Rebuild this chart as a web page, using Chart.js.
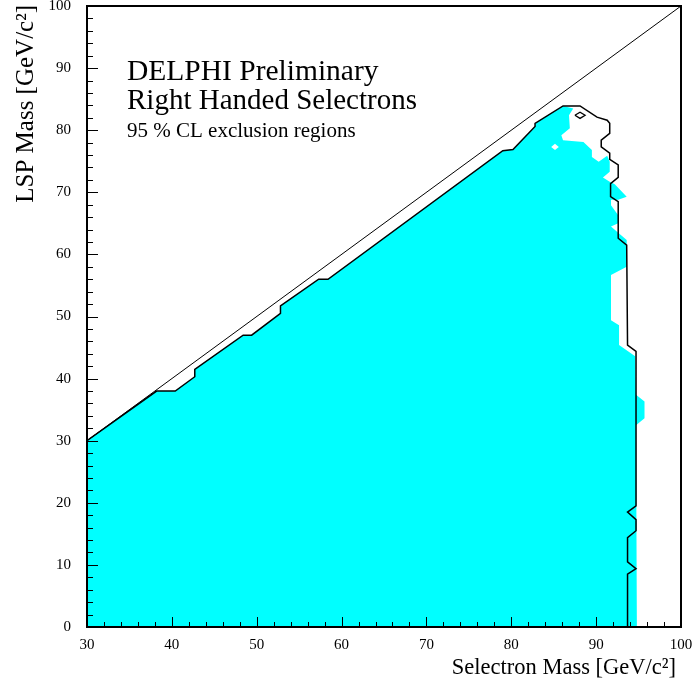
<!DOCTYPE html>
<html>
<head>
<meta charset="utf-8">
<script src="https://cdn.jsdelivr.net/npm/chart.js@4/dist/chart.umd.min.js"></script>
<style>
    body { margin: 0; background: #fff; }
    canvas { display: block; }
</style>
</head>
<body>
<canvas id="slepChart" width="692" height="686"></canvas>
<script>
// ---------- DATA ----------
const xTickValues = [30, 40, 50, 60, 70, 80, 90, 100];
const yTickValues = [0, 10, 20, 30, 40, 50, 60, 70, 80, 90, 100];

// kinematic limit m(LSP) = m(selectron)
const limitX = [30, 100];
const limitY = [30, 100];

// black exclusion contour
const contourX = [30, 38.2, 40.4, 42.7, 42.7, 48.4, 49.4, 52.8, 52.8, 57.3, 58.4, 79.0, 80.2, 82.8, 82.8, 86.1, 88.1,
    90.1, 91.3, 91.6, 91.6, 90.6, 90.6, 91.6, 91.6, 92.6, 92.6, 91.7, 91.7, 92.6, 92.6, 93.6, 93.7, 94.7,
    94.7, 93.7, 94.7, 94.7, 93.7, 93.7, 94.7, 93.7, 93.7];
const contourY = [30, 38, 38, 40.3, 41.5, 47, 47, 50.5, 51.7, 56, 56, 76.7, 76.9, 80.6, 81.1, 83.9, 83.9,
    82.1, 81.6, 81.1, 79.5, 78.4, 77.3, 76.3, 75.3, 74.4, 72.4, 71.4, 69.3, 68.5, 62.6, 61.5, 45.4, 44.4,
    19.5, 18.5, 17.3, 15.5, 14.4, 10.5, 9.4, 8.5, 0];

// small closed contour island
const islandX = [87.5, 88.1, 88.7, 88.1, 87.5];
const islandY = [82.4, 82.9, 82.4, 81.9, 82.4];

// excluded (cyan) region outline
const regionX = [30, 30, 38.2, 40.4, 42.7, 42.7, 48.4, 49.4, 52.8, 52.8, 57.3, 58.4, 79.0, 80.2, 82.8, 82.8, 86.1,
    87.3, 86.8, 86.9, 85.9, 86.1, 88.5, 89.5, 89.5, 90.3, 91.3, 91.6, 91.6, 90.8, 91.6, 92.2, 93.6, 92.6,
    91.75, 91.75, 92.6, 92.6, 91.75, 92.6, 93.6, 93.6, 91.75, 91.75, 92.7, 92.7, 94.6, 94.7, 95.7, 95.7,
    94.7, 94.8];
const regionY = [0, 30, 38, 38, 40.3, 41.5, 47, 47, 50.5, 51.7, 56, 56, 76.7, 76.9, 80.6, 81.1, 83.9,
    83.5, 82.4, 80.3, 79.2, 78.4, 78.1, 76.8, 75.7, 74.9, 75.9, 74.9, 73.3, 72.4, 71.7, 71.3, 69.3, 68.8,
    68.8, 67.9, 66.3, 65.0, 64.5, 63.5, 62.3, 58.0, 56.7, 49.4, 48.6, 45.4, 43.6, 37.4, 36.3, 33.6,
    32.5, 0];

// white hole inside the cyan area
const holeX = [84.7, 85.15, 85.6, 85.15, 84.7];
const holeY = [77.3, 77.8, 77.3, 76.8, 77.3];

const labels = [
    { text: "DELPHI Preliminary", size: 29.5, x: 127, y: 80 },
    { text: "Right Handed Selectrons", size: 29, x: 127, y: 109 },
    { text: "95 % CL exclusion regions", size: 21, x: 127, y: 137 }
];
const xTitle = "Selectron Mass [GeV/c\u00b2]";
const yTitle = "LSP Mass [GeV/c\u00b2]";

const SERIF = "'Liberation Serif', 'DejaVu Serif', serif";

function toPoints(xs, ys) {
    return xs.map((x, i) => ({ x: x, y: ys[i] }));
}

// ---------- FRAME, INWARD TICKS, TEXT ----------
const framePlugin = {
    id: "frame",
    afterDatasetsDraw(chart) {
        const { ctx, chartArea: a, scales: { x, y } } = chart;
        ctx.save();
        ctx.strokeStyle = "#000";
        ctx.lineWidth = 1;
        ctx.beginPath();
        for (let v = 30; v <= 100; v += 2) {
            const px = Math.round(x.getPixelForValue(v)) + 0.5;
            const len = v % 10 === 0 ? 10 : 5;
            ctx.moveTo(px, a.bottom);
            ctx.lineTo(px, a.bottom - len);
        }
        for (let v = 0; v <= 100; v += 2) {
            const py = Math.round(y.getPixelForValue(v)) + 0.5;
            const len = v % 10 === 0 ? 11 : 6;
            ctx.moveTo(a.left, py);
            ctx.lineTo(a.left + len, py);
        }
        ctx.stroke();
        ctx.lineWidth = 2;
        ctx.strokeRect(a.left, a.top, a.right - a.left, a.bottom - a.top);
        ctx.restore();
    },
    afterDraw(chart) {
        const ctx = chart.ctx;
        ctx.save();
        ctx.fillStyle = "#000";
        ctx.textBaseline = "alphabetic";
        labels.forEach(l => {
            ctx.font = l.size + "px " + SERIF;
            ctx.fillText(l.text, l.x, l.y);
        });
        // axis titles
        ctx.font = "22.5px " + SERIF;
        ctx.textAlign = "right";
        ctx.fillText(xTitle, 676, 674);
        ctx.translate(33, 5);
        ctx.rotate(-Math.PI / 2);
        ctx.font = "25px " + SERIF;
        ctx.fillText(yTitle, 0, 0);
        ctx.restore();
    }
};

// ---------- CHART ----------
new Chart(document.getElementById("slepChart"), {
    type: "scatter",
    data: {
        datasets: [
            {
                data: toPoints(limitX, limitY),
                showLine: true, borderColor: "#000", borderWidth: 1,
                pointRadius: 0, fill: false, order: 1
            },
            {
                data: toPoints(contourX, contourY),
                showLine: true, borderColor: "#000", borderWidth: 1.5,
                pointRadius: 0, fill: false, order: 2
            },
            {
                data: toPoints(islandX, islandY),
                showLine: true, borderColor: "#000", borderWidth: 1.3,
                pointRadius: 0, fill: false, order: 2
            },
            {
                data: toPoints(holeX, holeY),
                showLine: true, borderWidth: 0, borderColor: "rgba(0,0,0,0)",
                backgroundColor: "#fff", pointRadius: 0, fill: "shape", order: 4
            },
            {
                data: toPoints(regionX, regionY),
                showLine: true, borderWidth: 0, borderColor: "rgba(0,0,0,0)",
                backgroundColor: "#00ffff", pointRadius: 0, fill: "shape", order: 5
            }
        ]
    },
    options: {
        responsive: false,
        animation: false,
        events: [],
        layout: { padding: { top: 6, right: 11, left: 0, bottom: 0 } },
        plugins: {
            legend: { display: false },
            tooltip: { enabled: false }
        },
        scales: {
            x: {
                type: "linear",
                min: 30, max: 100,
                grid: { display: false, drawTicks: false },
                border: { display: false },
                afterBuildTicks: s => { s.ticks = xTickValues.map(v => ({ value: v })); },
                afterFit: s => { s.height = 59; s.paddingLeft = 0; s.paddingRight = 0; },
                ticks: {
                    autoSkip: false, maxRotation: 0, padding: 9,
                    color: "#000", font: { family: SERIF, size: 15 }
                }
            },
            y: {
                type: "linear",
                min: 0, max: 100,
                grid: { display: false, drawTicks: false },
                border: { display: false },
                afterBuildTicks: s => { s.ticks = yTickValues.map(v => ({ value: v })); },
                afterFit: s => { s.width = 87; s.paddingTop = 0; s.paddingBottom = 0; },
                ticks: {
                    autoSkip: false, padding: 16,
                    color: "#000", font: { family: SERIF, size: 15 }
                }
            }
        }
    },
    plugins: [framePlugin]
});
</script>
</body>
</html>
